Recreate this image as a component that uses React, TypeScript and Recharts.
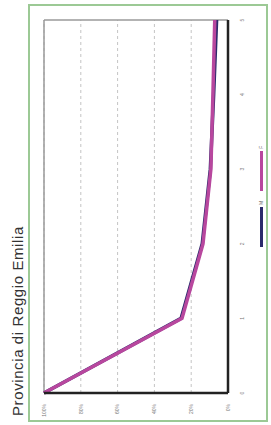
import { LineChart, Line, XAxis, YAxis, CartesianGrid, ReferenceLine } from "recharts"

// durations (categories on the x axis)
const categories = [0, 1, 2, 3, 4, 5]
const seriesM = [100, 25.5, 14, 9.6, 7.8, 6.2]
const seriesF = [100, 25, 13.6, 9.3, 8.2, 7.2]
const percentTicks = [0, 20, 40, 60, 80, 100]

const series = [
  { key: "M", label: "M", color: "#2b2a6b", values: seriesM },
  { key: "F", label: "F", color: "#b8479e", values: seriesF },
]

const data = categories.map((c, i) => ({ cat: c, M: seriesM[i], F: seriesF[i] }))

const W = 425
const H = 271

export default function App() {
  return (
    <div style={{ position: "fixed", left: 0, top: 0, width: 271, height: 425, overflow: "hidden", background: "#fff" }}>
      <div
        style={{
          position: "absolute",
          left: 0,
          top: 0,
          width: W,
          height: H,
          transformOrigin: "0 0",
          transform: `translateY(${W}px) rotate(-90deg)`,
          fontFamily: "'Liberation Sans', Arial, sans-serif",
        }}
      >
        <div
          style={{
            position: "absolute",
            left: 9,
            top: 10,
            fontSize: 15,
            lineHeight: "15px",
            letterSpacing: 0.6,
            color: "#333",
            whiteSpace: "nowrap",
          }}
        >
          Provincia di Reggio Emilia
        </div>
        <div
          style={{
            position: "absolute",
            left: 3,
            top: 28,
            width: 414,
            height: 236,
            border: "2px solid #9cc995",
          }}
        />
        <div style={{ position: "absolute", left: 0, top: 0 }}>
          <LineChart width={W} height={H} data={data} margin={{ top: 44, right: 20, bottom: 12, left: 0 }}>
            <CartesianGrid horizontal vertical={false} strokeDasharray="3 3" stroke="#c4c4c4" />
            <XAxis
              dataKey="cat"
              type="number"
              domain={[0, 5]}
              ticks={categories}
              height={31}
              stroke="#222"
              strokeWidth={2.5}
              tickLine={false}
              tick={{ fontSize: 5, fill: "#777" }}
              tickMargin={6}
            />
            <YAxis
              type="number"
              domain={[0, 100]}
              ticks={percentTicks}
              tickFormatter={(v) => `${v}%`}
              width={32}
              stroke="#222"
              strokeWidth={2.5}
              tickLine={false}
              tick={{ fontSize: 5, fill: "#777" }}
              tickMargin={5}
            />
            <ReferenceLine y={100} stroke="#9a9a9a" strokeWidth={1.5} />
            <ReferenceLine x={5} stroke="#9a9a9a" strokeWidth={1.5} />
            {series.map((s) => (
              <Line
                key={s.key}
                type="linear"
                dataKey={s.key}
                stroke={s.color}
                strokeWidth={3.5}
                dot={false}
                isAnimationActive={false}
              />
            ))}
          </LineChart>
        </div>
        <div style={{ position: "absolute", left: 178, top: 258, display: "flex", alignItems: "center" }}>
          {series.map((s) => (
            <div key={s.key} style={{ display: "flex", alignItems: "center", marginRight: 10 }}>
              <div style={{ width: 40, height: 3, background: s.color }} />
              <span style={{ fontSize: 5, color: "#666", marginLeft: 2 }}>{s.label}</span>
            </div>
          ))}
        </div>
      </div>
    </div>
  )
}
